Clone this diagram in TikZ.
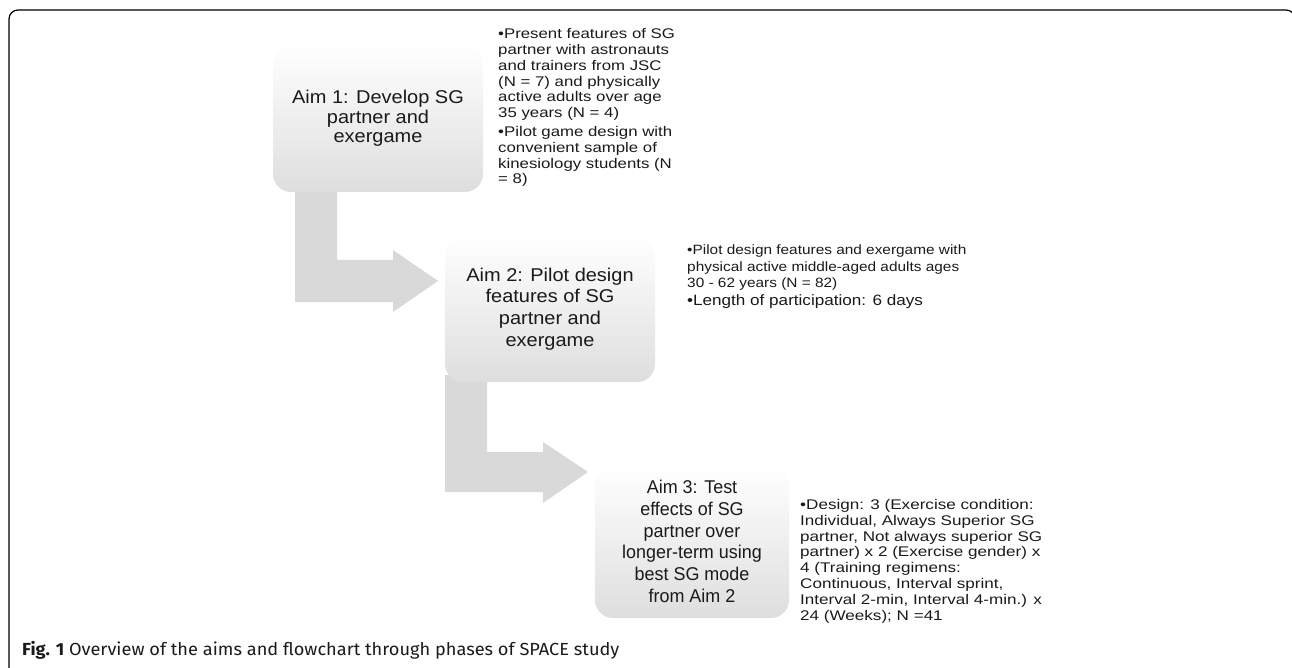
\documentclass[tikz,border=0pt]{standalone}
\usepackage{fontspec}
\setmainfont{Liberation Sans}
\newfontfamily\capfont{Fira Sans}[FakeStretch=1.04]
\newfontfamily\aimwide{Liberation Sans}[FakeStretch=1.08]
\newfontfamily\aimnarrow{Liberation Sans}[FakeStretch=0.97]
\newfontfamily\bulA{Liberation Sans}[FakeStretch=1.2]
\newfontfamily\bulB{Liberation Sans}[FakeStretch=1.14]
\newfontfamily\bulC{Liberation Sans}[FakeStretch=1.22]
\usetikzlibrary{calc}
\definecolor{boxgray}{HTML}{DEDEDE}
\definecolor{arrowgray}{HTML}{D9D9D9}
\definecolor{txt}{HTML}{1A1A1A}
\begin{document}
\begin{tikzpicture}[x=1pt,y=-1pt,
  aimbox/.style={rounded corners=18pt, top color=white, middle color=white, bottom color=boxgray,
    draw=none, align=center, text=txt, inner sep=0pt},
  bullettext/.style={anchor=north west, align=left, inner sep=0pt, text=txt},
  bentarrow/.style={fill=arrowgray, draw=none}]
\useasboundingbox (0,0) rectangle (1292,668);
% frame
\draw[line width=1.2pt, rounded corners=9pt] (9,680) -- (9,10) -- (1295,10) -- (1295,60);

% bent arrows
\fill[bentarrow] (295,185) -- (337,185) -- (337,260) -- (393,260) -- (393,250) -- (438,281)
  -- (393,312) -- (393,302) -- (295,302) -- cycle;
\fill[bentarrow] (445,375) -- (487,375) -- (487,452) -- (543,452) -- (543,442) -- (588,472)
  -- (543,503) -- (543,492) -- (445,492) -- cycle;

% aim boxes
\node[aimbox, minimum width=210pt, minimum height=147pt,
  font=\aimwide\fontsize{18.5}{19.5}\selectfont] (a1) at (378,118.5)
  {Aim 1: Develop SG\\partner and\\exergame};
\node[aimbox, minimum width=210pt, minimum height=146pt,
  font=\aimwide\fontsize{18.5}{21.7}\selectfont] (a2) at (550,309)
  {Aim 2: Pilot design\\features of SG\\partner and\\exergame};
\node[aimbox, minimum width=194pt, minimum height=153pt,
  font=\aimnarrow\fontsize{18.5}{21.7}\selectfont] (a3) at (692,541.5)
  {Aim 3: Test\\effects of SG\\partner over\\longer-term using\\best SG mode\\from Aim 2};

% bullet texts
\node[bullettext, font=\bulA\fontsize{14}{15.9}\selectfont] (t1) at (498,28)
  {•Present features of SG\\partner with astronauts\\and trainers from JSC\\(N = 7) and physically\\active adults over age\\35 years (N = 4)\\[2.5pt]•Pilot game design with\\convenient sample of\\kinesiology students (N\\= 8)};
\node[bullettext, font=\bulB\fontsize{13.5}{16.5}\selectfont] (t2) at (687,245)
  {•Pilot design features and exergame with\\physical active middle-aged adults ages\\30 - 62 years (N = 82)\\[1.5pt]{\fontsize{15}{17}\selectfont •Length of participation: 6 days}};
\node[bullettext, font=\bulC\fontsize{14}{15.85}\selectfont] (t3) at (800,499)
  {•Design: 3 (Exercise condition:\\Individual, Always Superior SG\\partner, Not always superior SG\\partner) x 2 (Exercise gender) x\\4 (Training regimens:\\Continuous, Interval sprint,\\Interval 2-min, Interval 4-min.) x\\24 (Weeks); N =41};

% caption
\node[anchor=base west, inner sep=0pt, text=txt] (cap) at (22,655)
  {\capfont\fontsize{17.5}{20}\selectfont\textbf{Fig. 1} Overview of the aims and flowchart through phases of SPACE study};
\end{tikzpicture}
\end{document}
